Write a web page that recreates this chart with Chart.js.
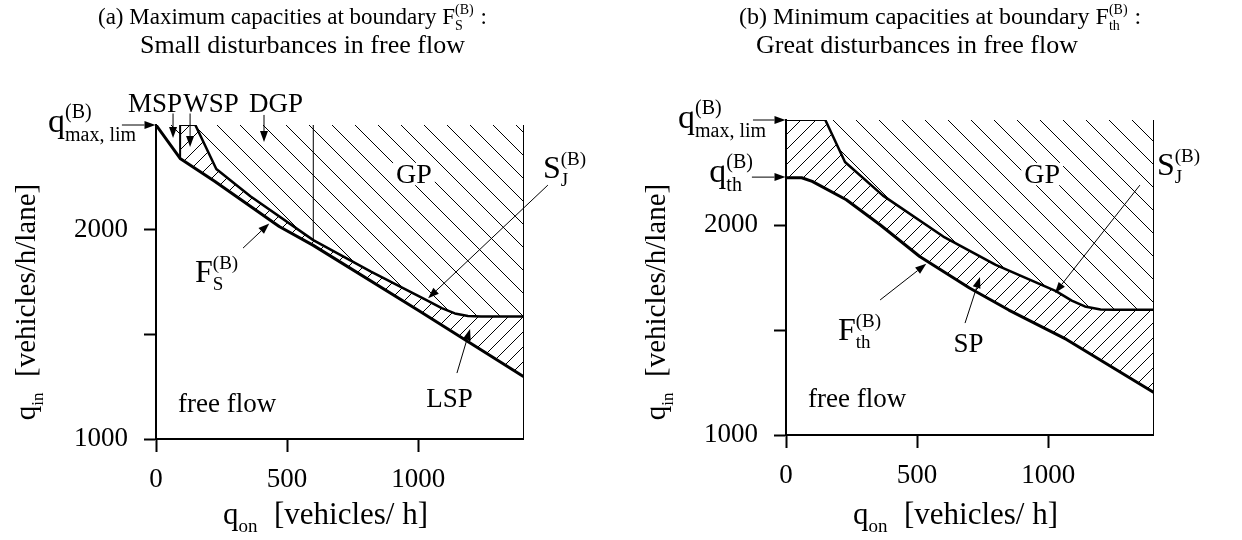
<!DOCTYPE html>
<html>
<head>
<meta charset="utf-8">
<title>Capacity diagrams</title>
<script src="https://cdn.jsdelivr.net/npm/chart.js@4.4.1/dist/chart.umd.min.js"></script>
<style>
  html, body { margin: 0; padding: 0; background: #fff; }
  #page { position: relative; width: 1242px; height: 540px; overflow: hidden; }
  canvas { position: absolute; top: 0; }
  #chart-a { left: 0; }
  #chart-b { left: 621px; }
</style>
</head>
<body>
<div id="page">
  <canvas id="chart-a" width="621" height="540"></canvas>
  <canvas id="chart-b" width="621" height="540"></canvas>
</div>
<script>
// values: q_on in vehicles/h, q_in in vehicles/h/lane

// (a) lower boundary F_S^(B) and upper boundary S_J^(B)
const aFsOn = [0, 92, 225, 470, 600, 1000, 1400];
const aFsIn = [2500, 2340, 2230, 2015, 1925, 1615, 1300];
const aSjOn = [150, 230, 360, 600, 820, 1030, 1090, 1140, 1190, 1240, 1400];
const aSjIn = [2500, 2290, 2160, 1950, 1800, 1665, 1625, 1600, 1588, 1585, 1585];
const aMspEdge = 92;   // MSP | WSP
const aDgpEdge = 600;  // DGP | GP

// (b) lower boundary F_th^(B) and upper boundary S_J^(B)
const bFthOn = [0, 60, 100, 230, 360, 510, 700, 850, 1070, 1400];
const bFthIn = [2225, 2225, 2208, 2120, 2000, 1850, 1700, 1595, 1455, 1205];
const bSjOn = [150, 225, 370, 600, 800, 1030, 1090, 1140, 1200, 1250, 1400];
const bSjIn = [2500, 2300, 2140, 1945, 1810, 1685, 1640, 1612, 1598, 1597, 1597];

const qMaxLim = 2500;
const qTh = 2228;

const xTickValues = [0, 500, 1000];
const xTickLabels = ['0', '500', '1000'];
const yTickValues = [1000, 1500, 2000];
const yTickLabels = ['1000', '', '2000'];

const SERIF = '"Liberation Serif", "Times New Roman", serif';

// hatch tile: 45 degree lines, step = horizontal spacing
function hatch(step, dir, opaque) {
  const c = document.createElement('canvas');
  c.width = step;
  c.height = step;
  const g = c.getContext('2d');
  if (opaque) {
    g.fillStyle = '#fff';
    g.fillRect(0, 0, step, step);
  }
  g.strokeStyle = '#000';
  g.lineWidth = 1;
  g.beginPath();
  for (let k = -1; k <= 1; k++) {
    if (dir === '/') {
      g.moveTo(k * step, step);
      g.lineTo(k * step + step, 0);
    } else {
      g.moveTo(k * step, 0);
      g.lineTo(k * step + step, step);
    }
  }
  g.stroke();
  return g.createPattern(c, 'repeat');
}

function pts(xs, ys) {
  return xs.map((x, i) => ({ x: x, y: ys[i] }));
}

// text with stacked sub/superscripts, tokens: 'text' or {sub, sup}
function drawMath(ctx, tokens, x, y, size, align) {
  const small = Math.round(size * 0.6);
  const widths = tokens.map(t => {
    if (typeof t === 'string') {
      ctx.font = size + 'px ' + SERIF;
      return ctx.measureText(t).width;
    }
    ctx.font = small + 'px ' + SERIF;
    const w1 = t.sub ? ctx.measureText(t.sub).width : 0;
    const w2 = t.sup ? ctx.measureText(t.sup).width : 0;
    return Math.max(w1, w2) + 1;
  });
  const total = widths.reduce((a, b) => a + b, 0);
  let cx = x;
  if (align === 'center') cx = x - total / 2;
  if (align === 'right') cx = x - total;
  ctx.textAlign = 'left';
  ctx.textBaseline = 'alphabetic';
  tokens.forEach((t, i) => {
    if (typeof t === 'string') {
      ctx.font = size + 'px ' + SERIF;
      ctx.fillText(t, cx, y);
    } else {
      ctx.font = small + 'px ' + SERIF;
      if (t.sub) ctx.fillText(t.sub, cx, y + size * 0.26);
      if (t.sup) ctx.fillText(t.sup, cx, y - size * 0.42);
    }
    cx += widths[i];
  });
  return { left: cx - total, width: total };
}

function arrow(ctx, x1, y1, x2, y2) {
  const head = 11, half = 4;
  const ang = Math.atan2(y2 - y1, x2 - x1);
  const bx = x2 - head * Math.cos(ang);
  const by = y2 - head * Math.sin(ang);
  ctx.lineWidth = 1;
  ctx.beginPath();
  ctx.moveTo(x1, y1);
  ctx.lineTo(bx, by);
  ctx.stroke();
  ctx.beginPath();
  ctx.moveTo(x2, y2);
  ctx.lineTo(bx + half * Math.sin(ang), by - half * Math.cos(ang));
  ctx.lineTo(bx - half * Math.sin(ang), by + half * Math.cos(ang));
  ctx.closePath();
  ctx.fill();
}

// labels, arrows and titles, placed through the chart scales
const notesPlugin = {
  id: 'notes',
  afterDraw(chart, args, opts) {
    const ctx = chart.ctx;
    const area = chart.chartArea;
    const px = v => chart.scales.x.getPixelForValue(v);
    const py = v => chart.scales.y.getPixelForValue(v);
    ctx.save();
    ctx.fillStyle = '#000';
    ctx.strokeStyle = '#000';

    opts.arrows.forEach(a => arrow(ctx, px(a.from[0]), py(a.from[1]), px(a.to[0]), py(a.to[1])));

    opts.labels.forEach(l => {
      if (l.knockout) {
        ctx.font = l.size + 'px ' + SERIF;
        const w = ctx.measureText(l.tokens[0]).width;
        ctx.fillStyle = '#fff';
        ctx.fillRect(px(l.at[0]) - w / 2 - 3, py(l.at[1]) - l.size * 0.72, w + 6, l.size * 0.8);
        ctx.fillStyle = '#000';
      }
      drawMath(ctx, l.tokens, px(l.at[0]), py(l.at[1]), l.size, l.align);
    });

    opts.titles.forEach(t => drawMath(ctx, t.tokens, t.left, t.baseline, t.size, 'left'));

    // axis titles
    drawMath(ctx, ['q', { sub: 'on' }, '  [vehicles/ h]'], (area.left + area.right) / 2 - 14, 524, 31, 'center');
    ctx.save();
    ctx.translate(area.left - 121, 302);
    ctx.rotate(-Math.PI / 2);
    drawMath(ctx, ['q', { sub: 'in' }, '  [vehicles/h/lane]'], 0, 0, 29, 'center');
    ctx.restore();

    ctx.restore();
  }
};

function lineSet(points, width) {
  return {
    data: points, borderColor: '#000', borderWidth: width, pointRadius: 0,
    fill: false, xAxisID: 'x', yAxisID: 'y'
  };
}

function fillSet(points, pattern) {
  return {
    data: points, borderWidth: 0, borderColor: 'rgba(0,0,0,0)', backgroundColor: pattern,
    pointRadius: 0, fill: 'end', xAxisID: 'x', yAxisID: 'y'
  };
}

function makePanel(id, frame, datasets, notes) {
  const tickFont = { family: SERIF, size: 27 };
  return new Chart(document.getElementById(id), {
    type: 'line',
    data: { datasets: datasets },
    options: {
      responsive: false,
      animation: false,
      devicePixelRatio: 1,
      events: [],
      layout: {
        autoPadding: false,
        padding: { left: 0, top: frame.top, right: 621 - frame.right, bottom: 0 }
      },
      elements: { line: { tension: 0, borderJoinStyle: 'round', borderCapStyle: 'round' } },
      plugins: { legend: { display: false }, tooltip: { enabled: false }, notes: notes },
      scales: {
        x: {
          type: 'linear', position: 'bottom', min: 0, max: 1400,
          afterFit: s => { s.height = 540 - frame.bottom; },
          afterBuildTicks: s => { s.ticks = xTickValues.map(v => ({ value: v })); },
          ticks: {
            font: tickFont, color: '#000', padding: 12, maxRotation: 0, autoSkip: false,
            callback: (v, i) => xTickLabels[i]
          },
          grid: { drawOnChartArea: false, tickLength: 13, tickWidth: 2, tickColor: '#000', color: '#000' },
          border: { color: '#000', width: 2 }
        },
        y: {
          type: 'linear', position: 'left', min: 1000, max: qMaxLim,
          afterFit: s => { s.width = frame.left; },
          afterBuildTicks: s => { s.ticks = yTickValues.map(v => ({ value: v })); },
          ticks: {
            font: tickFont, color: '#000', padding: 16, autoSkip: false,
            callback: (v, i) => yTickLabels[i]
          },
          grid: { drawOnChartArea: false, tickLength: 12, tickWidth: 2, tickColor: '#000', color: '#000' },
          border: { color: '#000', width: 2 }
        },
        xTop: {
          type: 'linear', position: 'top', min: 0, max: 1400,
          afterFit: s => { s.height = 0; },
          ticks: { display: false }, grid: { display: false },
          border: { color: '#000', width: 1 }
        },
        yRight: {
          type: 'linear', position: 'right', min: 1000, max: qMaxLim,
          afterFit: s => { s.width = 0; },
          ticks: { display: false }, grid: { display: false },
          border: { color: '#000', width: 1 }
        }
      }
    },
    plugins: [notesPlugin]
  });
}

const slash = hatch(15, '/', false);
const backslash = hatch(23, '\\', true);

// panel (a)
const aFs = pts(aFsOn, aFsIn);
const aSj = pts(aSjOn, aSjIn);
const aMspBottom = aFsIn[aFsOn.indexOf(aMspEdge)];
const aDgpBottom = aSjIn[aSjOn.indexOf(aDgpEdge)];

makePanel('chart-a', { left: 156, top: 125, right: 523, bottom: 439 }, [
  lineSet([{ x: aMspEdge, y: aMspBottom }, { x: aMspEdge, y: qMaxLim }], 2),
  lineSet([{ x: aDgpEdge, y: aDgpBottom }, { x: aDgpEdge, y: qMaxLim }], 1),
  lineSet(aFs, 3),
  lineSet(aSj, 2.5),
  fillSet(aFs.filter(p => p.x <= aMspEdge), backslash),
  fillSet(aSj, backslash),
  fillSet(aFs, slash)
], {
  titles: [
    { tokens: ['(a) Maximum capacities at boundary F', { sub: 'S', sup: '(B)' }, ' :'], left: 98, baseline: 24, size: 23 },
    { tokens: ['Small disturbances in free flow'], left: 140, baseline: 53, size: 26 }
  ],
  labels: [
    { tokens: ['MSP'], at: [-4, 2562], size: 27, align: 'center' },
    { tokens: ['WSP'], at: [210, 2562], size: 27, align: 'center' },
    { tokens: ['DGP'], at: [458, 2562], size: 27, align: 'center' },
    { tokens: ['GP'], at: [984, 2223], size: 28, align: 'center', knockout: true },
    { tokens: ['q', { sub: 'max, lim', sup: '(B)' }], at: [-72, 2467], size: 34, align: 'right' },
    { tokens: ['S', { sub: 'J', sup: '(B)' }], at: [1476, 2247], size: 32, align: 'left' },
    { tokens: ['F', { sub: 'S', sup: '(B)' }], at: [149, 1750], size: 32, align: 'left' },
    { tokens: ['free flow'], at: [84, 1129], size: 27, align: 'left' },
    { tokens: ['LSP'], at: [1120, 1153], size: 27, align: 'center' }
  ],
  arrows: [
    { from: [-130, qMaxLim], to: [-2, qMaxLim] },
    { from: [65, 2555], to: [65, 2438] },
    { from: [130, 2555], to: [130, 2395] },
    { from: [412, 2548], to: [412, 2419] },
    { from: [1495, 2213], to: [1038, 1672] },
    { from: [332, 1912], to: [432, 2030] },
    { from: [1148, 1315], to: [1198, 1525] }
  ]
});

// panel (b)
const bFth = pts(bFthOn, bFthIn);
const bSj = pts(bSjOn, bSjIn);

makePanel('chart-b', { left: 165, top: 120, right: 532, bottom: 435 }, [
  lineSet(bFth, 3),
  lineSet(bSj, 2.5),
  fillSet(bSj, backslash),
  fillSet(bFth, slash)
], {
  titles: [
    { tokens: ['(b) Minimum capacities at boundary F', { sub: 'th', sup: '(B)' }, ' :'], left: 118, baseline: 24, size: 24 },
    { tokens: ['Great disturbances in free flow'], left: 135, baseline: 53, size: 26 }
  ],
  labels: [
    { tokens: ['GP'], at: [977, 2200], size: 28, align: 'center', knockout: true },
    { tokens: ['q', { sub: 'max, lim', sup: '(B)' }], at: [-72, 2462], size: 34, align: 'right' },
    { tokens: ['q', { sub: 'th', sup: '(B)' }], at: [-122, 2205], size: 34, align: 'right' },
    { tokens: ['S', { sub: 'J', sup: '(B)' }], at: [1415, 2238], size: 32, align: 'left' },
    { tokens: ['F', { sub: 'th', sup: '(B)' }], at: [198, 1452], size: 32, align: 'left' },
    { tokens: ['SP'], at: [696, 1395], size: 27, align: 'center' },
    { tokens: ['free flow'], at: [84, 1133], size: 27, align: 'left' }
  ],
  arrows: [
    { from: [-126, qMaxLim], to: [-2, qMaxLim] },
    { from: [-130, qTh], to: [-2, qTh] },
    { from: [1350, 2190], to: [1026, 1676] },
    { from: [359, 1643], to: [535, 1815] },
    { from: [683, 1533], to: [740, 1752] }
  ]
});
</script>
</body>
</html>
